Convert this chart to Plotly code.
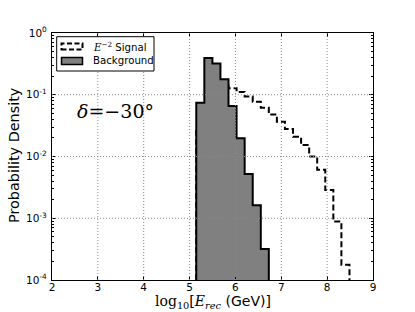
import plotly.graph_objects as go

# ---------------- data ----------------
bin_edges = [5.146, 5.322, 5.498, 5.673, 5.849, 6.025, 6.201, 6.377, 6.553, 6.728,
             6.904, 7.080, 7.256, 7.432, 7.608, 7.783, 7.959, 8.135, 8.311, 8.487]
signal_density = [0.030, 0.080, 0.110, 0.140, 0.128, 0.111, 0.094, 0.077, 0.0616, 0.048,
                  0.0366, 0.0278, 0.0209, 0.0153, 0.0100, 0.0061, 0.00288, 0.000885, 0.000177]
background_density = [0.074, 0.394, 0.320, 0.179, 0.0655, 0.0197, 0.0052, 0.00163, 0.000317]

x_ticks = [2, 3, 4, 5, 6, 7, 8, 9]
x_tick_labels = ["2", "3", "4", "5", "6", "7", "8", "9"]
y_ticks = [1e-4, 1e-3, 1e-2, 1e-1, 1]
y_tick_labels = ["10<sup>-4</sup>", "10<sup>-3</sup>", "10<sup>-2</sup>", "10<sup>-1</sup>", "10<sup>0</sup>"]
y_floor = 1e-4

signal_name = '<span style="font-family:DejaVu Serif"><i>E</i><sup>−2</sup></span> Signal'
background_name = "Background"
delta_label = '<i>δ</i>=−30°'
x_title = ('<span style="font-family:DejaVu Serif">log<sub>10</sub>[<i>E</i>'
           '<sub><i>rec</i></sub></span> (GeV)]')
y_title = "Probability Density"

W, H = 415, 312
ML, MR, MT, MB = 52, 42, 33, 32
PW, PH = W - ML - MR, H - MT - MB


def step_outline(edges, vals, floor):
    xs, ys = [edges[0]], [floor]
    for i, v in enumerate(vals):
        xs += [edges[i], edges[i + 1]]
        ys += [v, v]
    xs.append(edges[len(vals)])
    ys.append(floor)
    return xs, ys


def px(xp):
    return (xp - ML) / PW


def py(yp):
    return (H - MB - yp) / PH


sx, sy = step_outline(bin_edges, signal_density, y_floor)
bx, by = step_outline(bin_edges, background_density, y_floor)

fig = go.Figure()
fig.add_trace(go.Scatter(x=sx, y=sy, mode="lines", name=signal_name,
                         line=dict(color="black", width=2, dash="6px,3px"),
                         showlegend=False, hoverinfo="skip"))
fig.add_trace(go.Scatter(x=bx, y=by, mode="lines", fill="toself", name=background_name,
                         fillcolor="#808080", line=dict(color="black", width=2),
                         showlegend=False, hoverinfo="skip"))

shapes = []
grid = dict(color="#8a8a8a", width=1, dash="1px,2px")
for xv in x_ticks[1:-1]:
    shapes.append(dict(type="line", xref="x", yref="y domain", x0=xv, x1=xv, y0=0, y1=1,
                       line=grid, layer="above"))
for yv in y_ticks[1:-1]:
    shapes.append(dict(type="line", xref="x domain", yref="y", x0=0, x1=1, y0=yv, y1=yv,
                       line=grid, layer="above"))

# legend box
shapes.append(dict(type="rect", xref="paper", yref="paper", x0=px(56.7), x1=px(154),
                   y0=py(71), y1=py(36.7), fillcolor="white",
                   line=dict(color="black", width=1), layer="above"))
shapes.append(dict(type="rect", xref="paper", yref="paper", x0=px(61.5), x1=px(82.5),
                   y0=py(49.5), y1=py(43.5), fillcolor="rgba(0,0,0,0)",
                   line=dict(color="black", width=2, dash="5px,2.5px"), layer="above"))
shapes.append(dict(type="rect", xref="paper", yref="paper", x0=px(61.5), x1=px(82.5),
                   y0=py(64.5), y1=py(57.5), fillcolor="#808080",
                   line=dict(color="black", width=1.5), layer="above"))

annotations = [
    dict(text=signal_name, xref="paper", yref="paper", x=px(90.5), y=py(46.5),
         xanchor="left", yanchor="middle", showarrow=False,
         font=dict(family="DejaVu Sans", size=10.2, color="black")),
    dict(text=background_name, xref="paper", yref="paper", x=px(90.5), y=py(61),
         xanchor="left", yanchor="middle", showarrow=False,
         font=dict(family="DejaVu Sans", size=10.2, color="black")),
    dict(text=delta_label, xref="paper", yref="paper", x=px(115), y=py(110.5),
         xanchor="center", yanchor="middle", showarrow=False,
         font=dict(family="DejaVu Serif", size=19, color="black")),
    dict(text=x_title, xref="paper", yref="paper", x=0.5, y=py(301.5),
         xanchor="center", yanchor="middle", showarrow=False,
         font=dict(family="DejaVu Sans", size=14, color="black")),
    dict(text=y_title, xref="paper", yref="paper", x=px(14), y=py(155),
         xanchor="center", yanchor="middle", showarrow=False, textangle=-90,
         font=dict(family="DejaVu Sans", size=14.4, color="black")),
]

fig.update_layout(
    width=W, height=H,
    margin=dict(l=ML, r=MR, t=MT, b=MB, pad=0),
    paper_bgcolor="white", plot_bgcolor="white",
    showlegend=False,
    shapes=shapes, annotations=annotations,
    font=dict(family="DejaVu Sans", size=10.5, color="black"),
    xaxis=dict(range=[2, 9], tickvals=x_ticks, ticktext=x_tick_labels,
               showgrid=False, zeroline=False,
               showline=True, linecolor="black", linewidth=1.2, mirror="allticks",
               ticks="inside", ticklen=4, tickwidth=1, tickcolor="black",
               ticklabelstandoff=-3,
               tickfont=dict(family="DejaVu Sans", size=10.5, color="black"),
               layer="above traces", automargin=False),
    yaxis=dict(type="log", range=[-4, 0], tickvals=y_ticks, ticktext=y_tick_labels,
               showgrid=False, zeroline=False,
               showline=True, linecolor="black", linewidth=1.2, mirror="allticks",
               ticks="inside", ticklen=4, tickwidth=1, tickcolor="black",
               ticklabelstandoff=2,
               minor=dict(ticks="inside", ticklen=2, tickwidth=0.8, tickcolor="black",
                          dtick="D1", showgrid=False),
               tickfont=dict(family="DejaVu Sans", size=10.5, color="black"),
               layer="above traces", automargin=False),
)

fig.write_html("out.html", config={"displayModeBar": False},
               post_script="document.body.style.margin='0';document.body.style.padding='0';")
